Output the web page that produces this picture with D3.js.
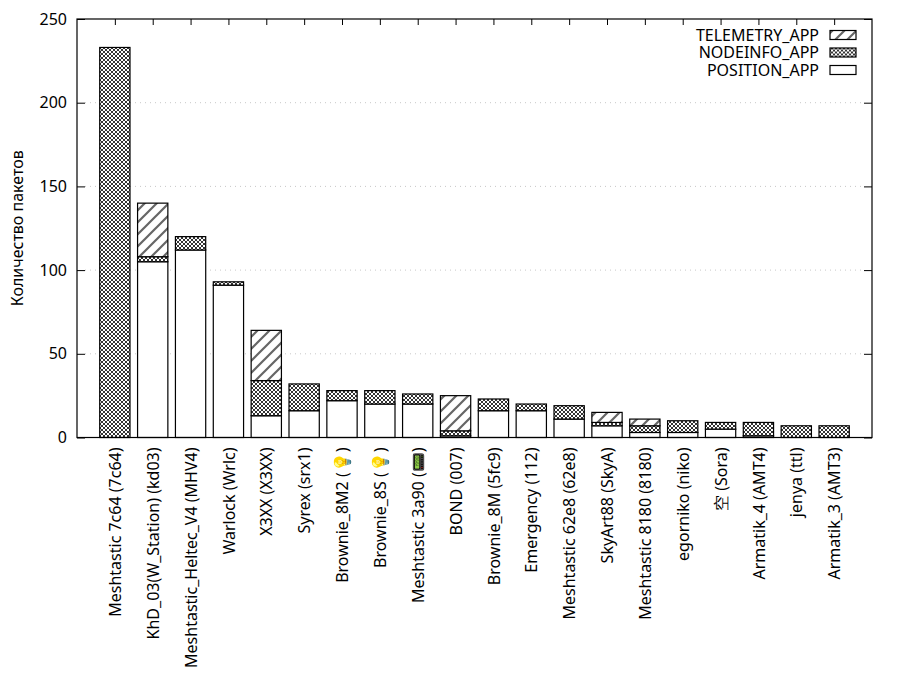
<!DOCTYPE html>
<html><head><meta charset="utf-8">
<script src="https://cdn.jsdelivr.net/npm/d3@7"></script>
<style>
body{margin:0;background:#fff}
svg{display:block}
text{font-family:"Noto Sans",sans-serif;font-size:16px;fill:#000}
</style>
</head><body><svg id="c" width="900" height="700"></svg>
<script>
const categories = [
  "Meshtastic 7c64 (7c64)", "KhD_03(W_Station) (kd03)", "Meshtastic_Heltec_V4 (MHV4)",
  "Warlock (Wrlc)", "X3XX (X3XX)", "Syrex (srx1)", "Brownie_8M2 (💡)", "Brownie_8S (💡)",
  "Meshtastic 3a90 (📟)", "BOND (007)", "Brownie_8M (5fc9)", "Emergency (112)",
  "Meshtastic 62e8 (62e8)", "SkyArt88 (SkyA)", "Meshtastic 8180 (8180)", "egorniko (niko)",
  "空 (Sora)", "Armatik_4 (AMT4)", "jenya (ttl)", "Armatik_3 (AMT3)"
];
const position  = [0, 105, 112, 91, 13, 16, 22, 20, 20, 1, 16, 16, 11, 7, 3, 3, 5, 1, 0, 0];
const nodeinfo  = [233, 3, 8, 2, 21, 16, 6, 8, 6, 3, 7, 4, 8, 2, 4, 7, 4, 8, 7, 7];
const telemetry = [0, 32, 0, 0, 30, 0, 0, 0, 0, 21, 0, 0, 0, 6, 4, 0, 0, 0, 0, 0];
const yTicks = [0, 50, 100, 150, 200, 250];
const seriesKeys = ["POSITION_APP", "NODEINFO_APP", "TELEMETRY_APP"];
const legendOrder = ["TELEMETRY_APP", "NODEINFO_APP", "POSITION_APP"];
const yLabel = "Количество пакетов";

const L = 77, R = 872, T = 19, B = 437.5;
const svg = d3.select("#c");
const defs = svg.append("defs");

const ch = defs.append("pattern").attr("id", "cross").attr("patternUnits", "userSpaceOnUse")
  .attr("width", 4).attr("height", 4);
ch.append("rect").attr("width", 4).attr("height", 4).attr("fill", "#fff");
ch.append("path").attr("d", "M0,0L4,4M4,0L0,4").attr("stroke", "#000").attr("stroke-width", 0.8);

const dg = defs.append("pattern").attr("id", "diag").attr("patternUnits", "userSpaceOnUse")
  .attr("width", 12).attr("height", 12);
dg.append("rect").attr("width", 12).attr("height", 12).attr("fill", "#fff");
dg.append("path").attr("d", "M0,12L12,0M-2,2L2,-2M10,14L14,10")
  .attr("stroke", "#666").attr("stroke-width", 2.2);

const fills = {"POSITION_APP": "#fff", "NODEINFO_APP": "url(#cross)", "TELEMETRY_APP": "url(#diag)"};

const table = categories.map((c, i) => ({
  idx: i, "POSITION_APP": position[i], "NODEINFO_APP": nodeinfo[i], "TELEMETRY_APP": telemetry[i]
}));

const x = d3.scaleLinear().domain([-1, categories.length]).range([L, R]);
const y = d3.scaleLinear().domain([0, 250]).range([B, T]);
const bw = 0.8;

// grid
svg.append("g").selectAll("line").data(yTicks.filter(v => v > 0 && v < 250)).join("line")
  .attr("x1", L + 8).attr("x2", R - 8).attr("y1", d => y(d)).attr("y2", d => y(d))
  .attr("stroke", "#c8c8c8").attr("stroke-width", 1).attr("stroke-dasharray", "1,4");

// axes
const gl = svg.append("g").attr("transform", `translate(${L},0)`)
  .call(d3.axisLeft(y).tickValues(yTicks).tickSizeInner(-8).tickSizeOuter(0).tickPadding(10));
const gr = svg.append("g").attr("transform", `translate(${R},0)`)
  .call(d3.axisRight(y).tickValues(yTicks).tickSizeInner(-8).tickSizeOuter(0).tickFormat(""));
const gt = svg.append("g").attr("transform", `translate(0,${T})`)
  .call(d3.axisTop(x).tickValues(d3.range(categories.length)).tickSizeInner(-6).tickSizeOuter(0).tickFormat(""));
const gb = svg.append("g").attr("transform", `translate(0,${B})`)
  .call(d3.axisBottom(x).tickValues(d3.range(categories.length)).tickSizeInner(-6).tickSizeOuter(0)
    .tickFormat(i => categories[i]));
gb.selectAll(".tick text").attr("transform", "rotate(-90)").attr("text-anchor", "end")
  .attr("x", -10).attr("y", 0).attr("dy", "0.35em");
[gl, gr, gt, gb].forEach(g => {
  g.select(".domain").remove();
  g.selectAll(".tick line").attr("stroke", "#000");
  g.selectAll("text").attr("font-family", "Noto Sans, sans-serif").attr("font-size", 16);
});
gl.selectAll("text").attr("font-size", 15);

// bars
const stacked = d3.stack().keys(seriesKeys)(table);
svg.append("g").selectAll("g").data(stacked).join("g")
  .attr("fill", d => fills[d.key])
  .selectAll("rect").data(d => d.filter(s => s[1] - s[0] > 0)).join("rect")
  .attr("x", d => x(d.data.idx - bw / 2)).attr("width", x(bw) - x(0))
  .attr("y", d => y(d[1])).attr("height", d => y(d[0]) - y(d[1]))
  .attr("stroke", "#000").attr("stroke-width", 1.2);

// border
svg.append("rect").attr("x", L).attr("y", T).attr("width", R - L).attr("height", B - T)
  .attr("fill", "none").attr("stroke", "#000").attr("stroke-width", 1.2);

// y label
svg.append("text").attr("transform", `translate(23,${(T + B) / 2}) rotate(-90)`)
  .attr("text-anchor", "middle").text(yLabel);

// legend
const lg = svg.append("g").selectAll("g").data(legendOrder).join("g")
  .attr("transform", (d, i) => `translate(0,${35 + i * 17.5})`);
lg.append("text").attr("x", 819).attr("y", 0).attr("dy", "0.35em").attr("text-anchor", "end").text(d => d);
lg.append("rect").attr("x", 830).attr("y", -4.5).attr("width", 26).attr("height", 9)
  .attr("fill", d => fills[d]).attr("stroke", "#000").attr("stroke-width", 1.2);
</script>
</body></html>
